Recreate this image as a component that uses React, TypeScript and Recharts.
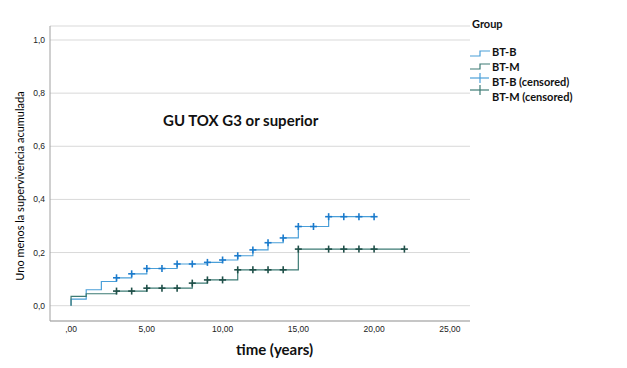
import React from "react";
import {
  ComposedChart,
  Line,
  Scatter,
  XAxis,
  YAxis,
  CartesianGrid,
} from "recharts";

// step points (time, 1 - cumulative survival)
const bbTime = [0, 0, 1, 2, 3, 4, 5, 7, 9, 10, 11, 12, 13, 14, 15, 17, 20];
const bbValue = [0, 0.025, 0.06, 0.091, 0.105, 0.12, 0.14, 0.157, 0.163, 0.172, 0.188, 0.21, 0.237, 0.255, 0.298, 0.335, 0.335];

const bmTime = [0, 0, 1, 3, 5, 8, 9, 11, 15, 22];
const bmValue = [0, 0.035, 0.045, 0.055, 0.066, 0.085, 0.097, 0.135, 0.213, 0.213];

// censored marks
const bbCensorTime = [3, 4, 5, 6, 7, 8, 9, 10, 11, 12, 13, 14, 15, 16, 17, 18, 19, 20];
const bbCensorValue = [0.105, 0.12, 0.14, 0.14, 0.157, 0.157, 0.163, 0.172, 0.188, 0.21, 0.237, 0.255, 0.298, 0.298, 0.335, 0.335, 0.335, 0.335];

const bmCensorTime = [3, 4, 5, 6, 7, 8, 9, 10, 11, 12, 13, 14, 15, 17, 18, 19, 20, 22];
const bmCensorValue = [0.055, 0.055, 0.066, 0.066, 0.066, 0.085, 0.097, 0.097, 0.135, 0.135, 0.135, 0.135, 0.213, 0.213, 0.213, 0.213, 0.213, 0.213];

const xTicks = [0, 5, 10, 15, 20, 25];
const yTicks = [0, 0.2, 0.4, 0.6, 0.8, 1.0];

const legendLabels = ["BT-B", "BT-M", "BT-B (censored)", "BT-M (censored)"];

const BLUE = "#4a9fd8";
const BLUE_DARK = "#1b7bcc";
const GREEN = "#3d7b74";
const GREEN_DARK = "#1f4f48";

const zip = (t: number[], v: number[]) => t.map((x, i) => ({ t: x, v: v[i] }));

const bbData = zip(bbTime, bbValue);
const bmData = zip(bmTime, bmValue);
const bbCensor = zip(bbCensorTime, bbCensorValue);
const bmCensor = zip(bmCensorTime, bmCensorValue);

const cross = (color: string) => (props: any) => {
  const { cx, cy } = props;
  return (
    <g stroke={color} strokeWidth={1.6}>
      <line x1={cx - 3.5} x2={cx + 3.5} y1={cy} y2={cy} />
      <line x1={cx} x2={cx} y1={cy - 3.5} y2={cy + 3.5} />
    </g>
  );
};

const fmtX = (v: number) => (v === 0 ? ",00" : v.toFixed(2).replace(".", ","));
const fmtY = (v: number) => v.toFixed(1).replace(".", ",");

const bold = { fontFamily: "Lato, 'Liberation Sans', sans-serif", fontWeight: 700, color: "#111" };
const tickStyle = { fill: "#222", fontSize: 8.5, fontFamily: "'Liberation Sans', sans-serif" };

export default function App() {
  return (
    <div style={{ position: "absolute", left: 0, top: 0, width: 627, height: 368, background: "#fff" }}>
      <ComposedChart
        width={627}
        height={368}
        margin={{ top: 26, right: 157, left: 0, bottom: 0 }}
      >
        <CartesianGrid vertical={false} stroke="#d9d9d9" />
        <XAxis
          type="number"
          dataKey="t"
          domain={[-1.39, 26.33]}
          ticks={xTicks}
          tickFormatter={fmtX}
          allowDataOverflow
          height={47}
          tickLine={false}
          tickSize={0}
          tickMargin={5}
          axisLine={{ stroke: "#a0a0a0" }}
          tick={tickStyle}
        />
        <YAxis
          type="number"
          dataKey="v"
          domain={[-0.0576, 1.0527]}
          ticks={yTicks}
          tickFormatter={fmtY}
          allowDataOverflow
          width={50}
          tickLine={false}
          tickSize={0}
          tickMargin={5}
          axisLine={{ stroke: "#a0a0a0" }}
          tick={tickStyle}
        />
        <Line data={bbData} dataKey="v" type="stepAfter" stroke={BLUE} strokeWidth={1.2} dot={false} isAnimationActive={false} />
        <Line data={bmData} dataKey="v" type="stepAfter" stroke={GREEN} strokeWidth={1.2} dot={false} isAnimationActive={false} />
        <Scatter data={bbCensor} dataKey="v" shape={cross(BLUE_DARK)} isAnimationActive={false} />
        <Scatter data={bmCensor} dataKey="v" shape={cross(GREEN_DARK)} isAnimationActive={false} />
      </ComposedChart>

      <div style={{ ...bold, position: "absolute", left: 163, top: 111, fontSize: 15, whiteSpace: "nowrap" }}>
        GU TOX G3 or superior
      </div>
      <div style={{ ...bold, position: "absolute", left: 236, top: 340, fontSize: 15, whiteSpace: "nowrap" }}>
        time (years)
      </div>
      <div
        style={{
          position: "absolute",
          left: 19,
          top: 186,
          transform: "translate(-50%, -50%) rotate(-90deg)",
          fontFamily: "Lato, 'Liberation Sans', sans-serif",
          fontSize: 11,
          color: "#000",
          whiteSpace: "nowrap",
        }}
      >
        Uno menos la supervivencia acumulada
      </div>

      {/* legend */}
      <div style={{ ...bold, position: "absolute", left: 472, top: 17, fontSize: 11 }}>Group</div>
      <svg style={{ position: "absolute", left: 0, top: 0 }} width={627} height={368} pointerEvents="none">
        <polyline points="470,56 480,56 480,51 490,51" fill="none" stroke={BLUE} strokeWidth={1.2} />
        <polyline points="470,69 480,69 480,64 490,64" fill="none" stroke={GREEN} strokeWidth={1.2} />
        <g stroke={BLUE} strokeWidth={1.2}>
          <line x1={470} x2={489} y1={78} y2={78} />
          <line x1={480} x2={480} y1={73} y2={83} />
        </g>
        <g stroke={GREEN} strokeWidth={1.2}>
          <line x1={470} x2={489} y1={90} y2={90} />
          <line x1={480} x2={480} y1={85} y2={95} />
        </g>
      </svg>
      {legendLabels.map((l, i) => (
        <div
          key={l}
          style={{ ...bold, position: "absolute", left: 492, top: 45 + i * 15, fontSize: 11, whiteSpace: "nowrap" }}
        >
          {l}
        </div>
      ))}
    </div>
  );
}
